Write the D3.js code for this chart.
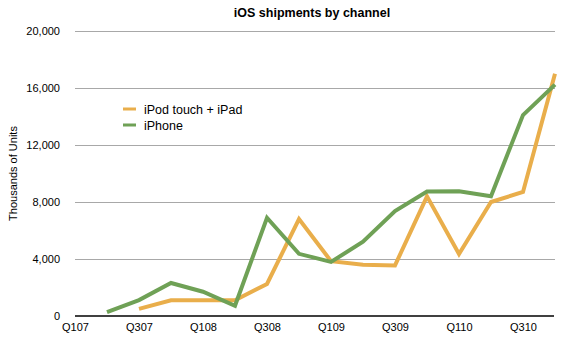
<!DOCTYPE html>
<html lang="en">
    <head>
        <meta charset="utf-8">
        <title>iOS shipments by channel</title>
        <script src="https://d3js.org/d3.v7.min.js"></script>
        <style type="text/css">
            body {
                margin: 0;
                background: #fff;
            }
            text {
                font-family: "Liberation Sans", Arial, Helvetica, sans-serif;
                fill: #000;
            }
        </style>
    </head>
    <body>
        <script>
        // quarters along the x axis (only every other one gets a label)
        const quarters = ["Q107", "Q207", "Q307", "Q407", "Q108", "Q208", "Q308", "Q408",
                          "Q109", "Q209", "Q309", "Q409", "Q110", "Q210", "Q310", "Q410"];
        const tickLabels = ["Q107", "Q307", "Q108", "Q308", "Q109", "Q309", "Q110", "Q310"];
        const yTicks = [0, 4000, 8000, 12000, 16000, 20000];

        // thousands of units, null = no data yet
        const ipodIpad = [null, null, 500, 1100, 1100, 1100, 2250, 6800,
                          3850, 3600, 3550, 8400, 4350, 8000, 8700, 17000];
        const iphone = [null, 270, 1119, 2315, 1703, 717, 6892, 4363,
                        3793, 5208, 7367, 8737, 8752, 8398, 14102, 16240];

        const seriesNames = ["iPod touch + iPad", "iPhone"];
        const colors = ["#E9AE4B", "#6FA156"];

        const width = 567;
        const height = 351;
        const mLeft = 75, mRight = 555, mTop = 31, mBottom = 316;

        const svg = d3.select("body")
                    .append("svg")
                    .attr("width", width)
                    .attr("height", height);

        const xScale = d3.scalePoint()
                        .domain(quarters)
                        .range([mLeft, mRight]);

        const yScale = d3.scaleLinear()
                        .domain([0, 20000])
                        .range([mBottom, mTop]);

        // title
        svg.append("text")
            .attr("x", 312)
            .attr("y", 17)
            .attr("text-anchor", "middle")
            .style("font-size", "12.5px")
            .style("font-weight", "bold")
            .text("iOS shipments by channel");

        // gridlines + y labels
        const leftAxis = d3.axisLeft(yScale)
                        .tickValues(yTicks)
                        .tickSize(-(mRight - mLeft))
                        .tickPadding(15)
                        .tickFormat(d3.format(","));

        const gy = svg.append("g")
            .attr("transform", "translate(" + mLeft + ",0)")
            .call(leftAxis);
        gy.select(".domain").remove();
        gy.selectAll(".tick line")
            .attr("stroke", "#a8a8a8")
            .attr("shape-rendering", "crispEdges");
        gy.selectAll(".tick text")
            .style("font-size", "11px")
            .attr("font-family", null);
        gy.selectAll(".tick").filter(d => d === 0).select("line").remove();

        // y title
        svg.append("text")
            .attr("transform", "translate(17," + ((mTop + mBottom) / 2) + ") rotate(-90)")
            .attr("text-anchor", "middle")
            .style("font-size", "11px")
            .text("Thousands of Units");

        // bottom axis
        const bottomAxis = d3.axisBottom(xScale)
                        .tickValues(tickLabels)
                        .tickSize(0)
                        .tickPadding(7)
                        .tickSizeOuter(0);

        const gx = svg.append("g")
            .attr("transform", "translate(0," + mBottom + ")")
            .call(bottomAxis);
        gx.select(".domain")
            .attr("stroke", "#000")
            .attr("stroke-width", 1.5)
            .attr("d", "M" + mLeft + ",0H" + (mRight - 1));
        gx.selectAll(".tick text")
            .style("font-size", "11px")
            .attr("font-family", null);

        // lines
        const line = d3.line()
                    .defined(d => d.v != null)
                    .x(d => xScale(d.q))
                    .y(d => yScale(d.v));

        [ipodIpad, iphone].forEach((vals, i) => {
            const pts = quarters.map((q, j) => ({q: q, v: vals[j]}));
            svg.append("path")
                .datum(pts)
                .attr("fill", "none")
                .attr("stroke", colors[i])
                .attr("stroke-width", 4)
                .attr("d", line);
        });

        // legend
        const legend = svg.append("g")
            .attr("transform", "translate(123,109)");
        seriesNames.forEach((name, i) => {
            legend.append("line")
                .attr("x1", 0).attr("x2", 13)
                .attr("y1", i * 16).attr("y2", i * 16)
                .attr("stroke", colors[i])
                .attr("stroke-width", 3);
            legend.append("text")
                .attr("x", 21)
                .attr("y", i * 16 + 4.5)
                .style("font-size", "12.5px")
                .text(name);
        });
        </script>
    </body>
</html>
